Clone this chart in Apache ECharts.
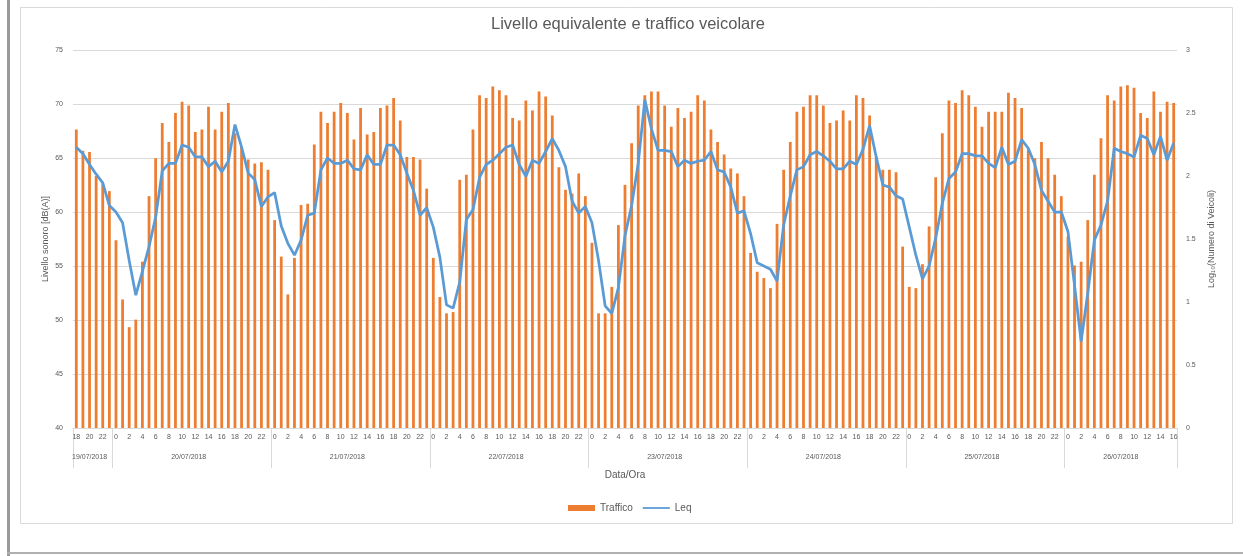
<!DOCTYPE html>
<html>
<head>
<meta charset="utf-8">
<title>Livello equivalente e traffico veicolare</title>
<script src="https://cdn.jsdelivr.net/npm/echarts@6/dist/echarts.min.js"></script>
<style>
    html, body { margin: 0; padding: 0; background: #ffffff; }
    #chart { width: 1243px; height: 556px; }
</style>
</head>
<body>
<div id="chart"></div>
<script>
// Days of the campaign, with first and last hour measured on each day
var giorni = ['19/07/2018', '20/07/2018', '21/07/2018', '22/07/2018', '23/07/2018', '24/07/2018', '25/07/2018', '26/07/2018'];
var oraInizio = [18, 0, 0, 0, 0, 0, 0, 0];
var oraFine = [23, 23, 23, 23, 23, 23, 23, 16];

// Hourly traffic, Log10(number of vehicles) - right axis
var traffico = [
    2.37, 2.20, 2.19, 2.00, 1.94, 1.88,
    1.49, 1.02, 0.80, 0.86, 1.32, 1.84, 2.14, 2.42, 2.27, 2.50, 2.59, 2.56, 2.35, 2.37, 2.55, 2.37, 2.51, 2.58, 2.34, 2.23, 2.13, 2.10, 2.11, 2.05,
    1.65, 1.36, 1.06, 1.35, 1.77, 1.78, 2.25, 2.51, 2.42, 2.51, 2.58, 2.50, 2.29, 2.54, 2.33, 2.35, 2.54, 2.56, 2.62, 2.44, 2.15, 2.15, 2.13, 1.90,
    1.35, 1.04, 0.91, 0.92, 1.97, 2.01, 2.37, 2.64, 2.62, 2.71, 2.68, 2.64, 2.46, 2.44, 2.60, 2.52, 2.67, 2.63, 2.48, 2.07, 1.89, 1.86, 2.02, 1.84,
    1.47, 0.91, 0.91, 1.12, 1.61, 1.93, 2.26, 2.56, 2.64, 2.67, 2.67, 2.56, 2.39, 2.54, 2.46, 2.51, 2.64, 2.60, 2.37, 2.27, 2.17, 2.06, 2.02, 1.84,
    1.39, 1.24, 1.19, 1.11, 1.62, 2.05, 2.27, 2.51, 2.55, 2.64, 2.64, 2.56, 2.42, 2.44, 2.52, 2.44, 2.64, 2.62, 2.48, 2.15, 2.05, 2.05, 2.03, 1.44,
    1.12, 1.11, 1.30, 1.60, 1.99, 2.34, 2.60, 2.58, 2.68, 2.64, 2.55, 2.39, 2.51, 2.51, 2.51, 2.66, 2.62, 2.54, 2.21, 2.14, 2.27, 2.14, 2.01, 1.84,
    1.52, 1.29, 1.32, 1.65, 2.01, 2.30, 2.64, 2.60, 2.71, 2.72, 2.70, 2.50, 2.46, 2.67, 2.51, 2.59, 2.58
];

// Hourly equivalent level Leq in dB(A) - left axis
var leq = [
    66.0, 65.4, 64.4, 63.5, 62.7, 60.6,
    60.0, 59.0, 55.5, 52.3, 54.5, 56.8, 59.5, 63.8, 64.5, 64.5, 66.2, 66.0, 65.1, 65.1, 64.2, 64.7, 63.7, 64.7, 68.1, 66.0, 63.6, 63.0, 60.5, 61.4,
    61.8, 58.7, 57.1, 56.0, 57.4, 59.7, 59.9, 63.9, 65.0, 64.5, 64.5, 64.8, 64.0, 63.9, 65.3, 64.4, 64.4, 66.2, 66.2, 65.3, 63.6, 62.0, 59.7, 60.4,
    58.6, 55.8, 51.4, 51.1, 53.5, 59.3, 60.2, 63.2, 64.4, 64.8, 65.4, 66.0, 66.2, 64.4, 63.3, 64.8, 64.5, 65.6, 66.8, 65.7, 64.2, 61.0, 59.9, 60.5,
    59.0, 55.5, 51.3, 50.6, 53.0, 57.8, 60.6, 64.5, 70.4, 67.7, 65.7, 65.7, 65.6, 64.2, 64.8, 64.5, 64.7, 64.8, 65.6, 63.9, 63.7, 62.3, 59.9, 60.1,
    58.0, 55.3, 55.0, 54.7, 53.6, 58.8, 61.5, 63.9, 64.2, 65.3, 65.6, 65.2, 64.7, 64.0, 64.0, 64.7, 64.4, 65.8, 68.0, 65.1, 62.5, 62.3, 61.5, 61.2,
    58.6, 56.0, 53.8, 55.0, 57.6, 60.8, 63.1, 63.7, 65.4, 65.4, 65.2, 65.2, 64.5, 64.1, 66.0, 64.4, 64.7, 66.7, 65.9, 64.4, 62.0, 61.0, 60.0, 60.0,
    58.2, 53.2, 48.0, 52.5, 57.4, 58.8, 61.0, 65.9, 65.6, 65.4, 65.1, 67.1, 66.8, 65.3, 67.0, 64.8, 66.4
];

// One category for each measured hour: "date hour"
var categorie = [];
var ore = [];
var centroGiorno = {};
for (var d = 0; d < giorni.length; d++) {
    var primo = categorie.length;
    for (var h = oraInizio[d]; h <= oraFine[d]; h++) {
        categorie.push(giorni[d] + ' ' + h);
        ore.push(h);
    }
    //the date is written under the middle hour of its day
    centroGiorno[Math.floor((primo + categorie.length - 1) / 2)] = true;
}

var testo = '#595959';
var griglia = '#d9d9d9';

var dom = document.getElementById('chart');
var myChart = echarts.init(dom);

var option = {
    animation: false,
    textStyle: {
        fontFamily: 'Liberation Sans'
    },
    title: {
        text: 'Livello equivalente e traffico veicolare',
        left: 623,
        top: 11,
        textAlign: 'center',
        textStyle: {
            color: testo,
            fontSize: 16.5,
            fontWeight: 'normal',
            fontFamily: 'Liberation Sans'
        }
    },
    legend: {
        left: 563,
        top: 498,
        itemWidth: 27,
        itemHeight: 6,
        itemGap: 10,
        textStyle: {
            color: testo,
            fontSize: 10
        },
        data: [
            { name: 'Traffico', icon: 'rect' },
            //plain line swatch, no marker
            { name: 'Leq', icon: 'path://M0 0 H30 V2 H0 Z' }
        ]
    },
    grid: {
        left: 73,
        right: 66,
        top: 50,
        bottom: 128
    },
    xAxis: [{
        //hours of the day
        type: 'category',
        data: categorie,
        axisLine: { lineStyle: { color: griglia } },
        axisTick: {
            show: true,
            length: 40,
            interval: function (index) {
                return index === 0 || ore[index] === 0;
            },
            lineStyle: { color: griglia }
        },
        axisLabel: {
            interval: 1,
            margin: 6,
            color: testo,
            fontSize: 7,
            formatter: function (value) {
                return value.split(' ')[1];
            }
        }
    }, {
        //dates, one label per day
        type: 'category',
        data: categorie,
        position: 'bottom',
        offset: 20,
        axisLine: { show: false },
        axisTick: { show: false },
        axisLabel: {
            margin: 6,
            color: testo,
            fontSize: 7,
            interval: function (index) {
                return centroGiorno[index] === true;
            },
            formatter: function (value) {
                return value.split(' ')[0];
            }
        },
        name: 'Data/Ora',
        nameLocation: 'middle',
        nameGap: 22,
        nameTextStyle: {
            color: testo,
            fontSize: 10
        }
    }],
    yAxis: [{
        type: 'value',
        min: 40,
        max: 75,
        interval: 5,
        name: 'Livello sonoro [dB(A)]',
        nameLocation: 'middle',
        nameGap: 23,
        nameMoveOverlap: false,
        nameTextStyle: { color: testo, fontSize: 9 },
        axisLine: { show: false },
        axisTick: { show: false },
        axisLabel: { color: testo, fontSize: 7, margin: 10 },
        splitLine: { lineStyle: { color: griglia } }
    }, {
        type: 'value',
        min: 0,
        max: 3,
        interval: 0.5,
        name: 'Log\u2081\u2080(Numero di Veicoli)',
        nameLocation: 'middle',
        nameGap: 30,
        nameRotate: 90,
        nameTextStyle: { color: testo, fontSize: 9 },
        axisLine: { show: false },
        axisTick: { show: false },
        axisLabel: { color: testo, fontSize: 7, margin: 9 },
        splitLine: { show: false }
    }],
    series: [{
        name: 'Traffico',
        type: 'bar',
        yAxisIndex: 1,
        barWidth: '42%',
        itemStyle: { color: '#ED7D31' },
        data: traffico
    }, {
        name: 'Leq',
        type: 'line',
        yAxisIndex: 0,
        symbol: 'none',
        lineStyle: { color: '#5B9BD5', width: 2.75 },
        itemStyle: { color: '#5B9BD5' },
        data: leq
    }],
    //border of the chart area and edges of the page, as in the screenshot
    graphic: [{
        type: 'rect',
        shape: { x: 20.5, y: 7.5, width: 1212, height: 516 },
        style: { fill: 'none', stroke: griglia, lineWidth: 1 },
        silent: true
    }, {
        type: 'rect',
        shape: { x: 7, y: 0, width: 3, height: 556 },
        style: { fill: '#9a9a9a' },
        silent: true
    }, {
        type: 'rect',
        shape: { x: 7, y: 552, width: 1236, height: 2 },
        style: { fill: '#b0b0b0' },
        silent: true
    }]
};

myChart.setOption(option);
</script>
</body>
</html>
